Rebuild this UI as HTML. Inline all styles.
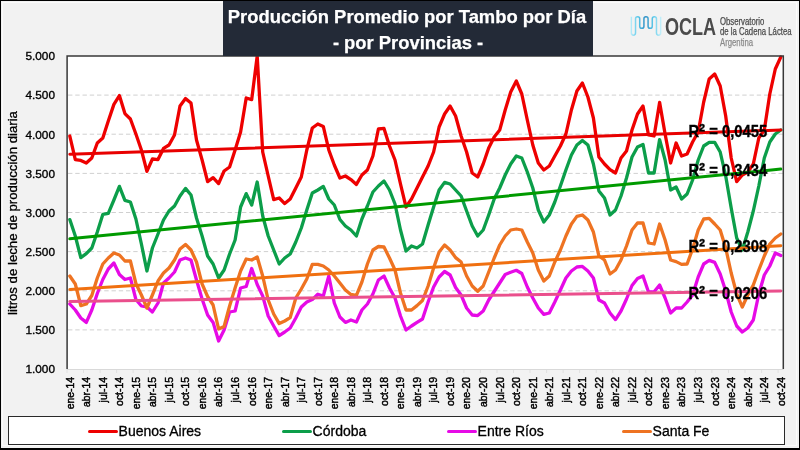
<!DOCTYPE html>
<html><head><meta charset="utf-8"><style>
html,body{margin:0;padding:0;}
body{width:800px;height:450px;overflow:hidden;background:#f2f2f2;position:relative;font-family:"Liberation Sans",Arial,sans-serif;}
.frame{position:absolute;left:0;top:0;width:800px;height:450px;box-sizing:border-box;border-top:1px solid #000;border-left:1px solid #000;border-right:1.6px solid #000;border-bottom:2.2px solid #000;z-index:5;}
.frame2{position:absolute;left:1px;top:1px;right:1.6px;bottom:2.2px;border:1.3px solid #fbfbfb;}
.title{position:absolute;z-index:6;left:223px;top:1px;width:370px;height:55px;background:#232a37;color:#fff;font-weight:bold;font-size:18.4px;text-align:center;-webkit-text-stroke:0.25px #fff;}
.title .l1{position:absolute;left:-1px;right:1px;top:4.7px;}
.title .l2{position:absolute;left:0;right:0;top:31px;}
svg{position:absolute;left:0;top:0;}
.yl{font-size:11.8px;fill:#000;text-anchor:end;stroke:#000;stroke-width:0.35px;}
.xl{font-size:10.4px;fill:#000;text-anchor:end;stroke:#000;stroke-width:0.45px;}
.r2{font-size:17px;font-weight:bold;fill:#000;stroke:#000;stroke-width:0.35px;}
.ytitle{font-size:13.2px;fill:#000;text-anchor:middle;stroke:#000;stroke-width:0.3px;}
.legend{position:absolute;left:8px;top:416.3px;width:776.5px;height:28.8px;box-sizing:border-box;border:1.4px solid #2a2a2a;background:#fff;}
.lg{position:absolute;top:6.1px;font-size:14px;color:#000;white-space:nowrap;-webkit-text-stroke:0.3px #000;}
.lg i{display:inline-block;width:30px;height:3.4px;border-radius:1.7px;vertical-align:middle;margin-right:0.6px;position:relative;top:-1px;}
.ocla{position:absolute;left:665px;top:15.8px;font-size:23px;font-weight:bold;color:#4b4b4b;transform:scaleX(0.785);transform-origin:0 0;line-height:1;}
.obs{position:absolute;left:719.5px;font-size:10px;line-height:1;color:#4a4a4a;-webkit-text-stroke:0.25px currentColor;white-space:nowrap;transform:scaleX(0.775);transform-origin:0 0;}
.arg{color:#8a8a8a;}
</style></head><body>
<div class="frame"><div class="frame2"></div></div>
<svg width="800" height="450" viewBox="0 0 800 450">
<rect x="67" y="56" width="716.5" height="313" fill="#fff"/>
<line x1="68" y1="329.9" x2="783" y2="329.9" stroke="#d0d0d0" stroke-width="1" stroke-dasharray="4.4,2.85"/>
<line x1="68" y1="290.8" x2="783" y2="290.8" stroke="#d0d0d0" stroke-width="1" stroke-dasharray="4.4,2.85"/>
<line x1="68" y1="251.6" x2="783" y2="251.6" stroke="#d0d0d0" stroke-width="1" stroke-dasharray="4.4,2.85"/>
<line x1="68" y1="212.5" x2="783" y2="212.5" stroke="#d0d0d0" stroke-width="1" stroke-dasharray="4.4,2.85"/>
<line x1="68" y1="173.4" x2="783" y2="173.4" stroke="#d0d0d0" stroke-width="1" stroke-dasharray="4.4,2.85"/>
<line x1="68" y1="134.2" x2="783" y2="134.2" stroke="#d0d0d0" stroke-width="1" stroke-dasharray="4.4,2.85"/>
<line x1="68" y1="95.1" x2="783" y2="95.1" stroke="#d0d0d0" stroke-width="1" stroke-dasharray="4.4,2.85"/>
<line x1="67.0" y1="369" x2="67.0" y2="373" stroke="#e0e0e0" stroke-width="1"/>
<line x1="83.5" y1="369" x2="83.5" y2="373" stroke="#e0e0e0" stroke-width="1"/>
<line x1="100.1" y1="369" x2="100.1" y2="373" stroke="#e0e0e0" stroke-width="1"/>
<line x1="116.6" y1="369" x2="116.6" y2="373" stroke="#e0e0e0" stroke-width="1"/>
<line x1="133.1" y1="369" x2="133.1" y2="373" stroke="#e0e0e0" stroke-width="1"/>
<line x1="149.7" y1="369" x2="149.7" y2="373" stroke="#e0e0e0" stroke-width="1"/>
<line x1="166.2" y1="369" x2="166.2" y2="373" stroke="#e0e0e0" stroke-width="1"/>
<line x1="182.8" y1="369" x2="182.8" y2="373" stroke="#e0e0e0" stroke-width="1"/>
<line x1="199.3" y1="369" x2="199.3" y2="373" stroke="#e0e0e0" stroke-width="1"/>
<line x1="215.8" y1="369" x2="215.8" y2="373" stroke="#e0e0e0" stroke-width="1"/>
<line x1="232.4" y1="369" x2="232.4" y2="373" stroke="#e0e0e0" stroke-width="1"/>
<line x1="248.9" y1="369" x2="248.9" y2="373" stroke="#e0e0e0" stroke-width="1"/>
<line x1="265.4" y1="369" x2="265.4" y2="373" stroke="#e0e0e0" stroke-width="1"/>
<line x1="282.0" y1="369" x2="282.0" y2="373" stroke="#e0e0e0" stroke-width="1"/>
<line x1="298.5" y1="369" x2="298.5" y2="373" stroke="#e0e0e0" stroke-width="1"/>
<line x1="315.1" y1="369" x2="315.1" y2="373" stroke="#e0e0e0" stroke-width="1"/>
<line x1="331.6" y1="369" x2="331.6" y2="373" stroke="#e0e0e0" stroke-width="1"/>
<line x1="348.1" y1="369" x2="348.1" y2="373" stroke="#e0e0e0" stroke-width="1"/>
<line x1="364.7" y1="369" x2="364.7" y2="373" stroke="#e0e0e0" stroke-width="1"/>
<line x1="381.2" y1="369" x2="381.2" y2="373" stroke="#e0e0e0" stroke-width="1"/>
<line x1="397.7" y1="369" x2="397.7" y2="373" stroke="#e0e0e0" stroke-width="1"/>
<line x1="414.3" y1="369" x2="414.3" y2="373" stroke="#e0e0e0" stroke-width="1"/>
<line x1="430.8" y1="369" x2="430.8" y2="373" stroke="#e0e0e0" stroke-width="1"/>
<line x1="447.3" y1="369" x2="447.3" y2="373" stroke="#e0e0e0" stroke-width="1"/>
<line x1="463.9" y1="369" x2="463.9" y2="373" stroke="#e0e0e0" stroke-width="1"/>
<line x1="480.4" y1="369" x2="480.4" y2="373" stroke="#e0e0e0" stroke-width="1"/>
<line x1="497.0" y1="369" x2="497.0" y2="373" stroke="#e0e0e0" stroke-width="1"/>
<line x1="513.5" y1="369" x2="513.5" y2="373" stroke="#e0e0e0" stroke-width="1"/>
<line x1="530.0" y1="369" x2="530.0" y2="373" stroke="#e0e0e0" stroke-width="1"/>
<line x1="546.6" y1="369" x2="546.6" y2="373" stroke="#e0e0e0" stroke-width="1"/>
<line x1="563.1" y1="369" x2="563.1" y2="373" stroke="#e0e0e0" stroke-width="1"/>
<line x1="579.6" y1="369" x2="579.6" y2="373" stroke="#e0e0e0" stroke-width="1"/>
<line x1="596.2" y1="369" x2="596.2" y2="373" stroke="#e0e0e0" stroke-width="1"/>
<line x1="612.7" y1="369" x2="612.7" y2="373" stroke="#e0e0e0" stroke-width="1"/>
<line x1="629.3" y1="369" x2="629.3" y2="373" stroke="#e0e0e0" stroke-width="1"/>
<line x1="645.8" y1="369" x2="645.8" y2="373" stroke="#e0e0e0" stroke-width="1"/>
<line x1="662.3" y1="369" x2="662.3" y2="373" stroke="#e0e0e0" stroke-width="1"/>
<line x1="678.9" y1="369" x2="678.9" y2="373" stroke="#e0e0e0" stroke-width="1"/>
<line x1="695.4" y1="369" x2="695.4" y2="373" stroke="#e0e0e0" stroke-width="1"/>
<line x1="711.9" y1="369" x2="711.9" y2="373" stroke="#e0e0e0" stroke-width="1"/>
<line x1="728.5" y1="369" x2="728.5" y2="373" stroke="#e0e0e0" stroke-width="1"/>
<line x1="745.0" y1="369" x2="745.0" y2="373" stroke="#e0e0e0" stroke-width="1"/>
<line x1="761.6" y1="369" x2="761.6" y2="373" stroke="#e0e0e0" stroke-width="1"/>
<line x1="778.1" y1="369" x2="778.1" y2="373" stroke="#e0e0e0" stroke-width="1"/>
<polyline points="69.8,136.0 75.3,159.6 80.8,160.4 86.3,163.0 91.8,158.0 97.3,143.0 102.8,138.0 108.3,121.0 113.9,104.4 119.4,95.6 124.9,113.6 130.4,119.0 135.9,134.0 141.4,150.0 146.9,171.4 152.4,159.0 158.0,159.6 163.5,148.4 169.0,145.0 174.5,135.0 180.0,106.0 185.5,98.6 191.0,103.0 196.5,140.0 202.1,160.0 207.6,181.6 213.1,177.6 218.6,183.6 224.1,171.0 229.6,167.0 235.1,150.0 240.6,132.0 246.2,98.0 251.7,99.6 257.2,56.0 262.7,152.0 268.2,176.0 273.7,199.6 279.2,198.0 284.7,203.6 290.2,199.0 295.8,188.0 301.3,177.0 306.8,150.0 312.3,128.0 317.8,124.0 323.3,126.4 328.8,150.0 334.3,165.0 339.9,178.0 345.4,176.0 350.9,179.6 356.4,184.4 361.9,175.0 367.4,170.0 372.9,156.0 378.4,129.0 384.0,128.4 389.5,146.0 395.0,160.0 400.5,184.0 406.0,207.0 411.5,199.0 417.0,188.0 422.5,177.0 428.1,166.0 433.6,152.0 439.1,127.0 444.6,114.0 450.1,106.0 455.6,116.0 461.1,136.0 466.6,152.0 472.2,173.0 477.7,177.0 483.2,164.0 488.7,148.0 494.2,137.0 499.7,130.0 505.2,110.0 510.7,92.0 516.3,81.0 521.8,94.0 527.3,120.0 532.8,145.0 538.3,163.0 543.8,170.0 549.3,166.0 554.8,156.0 560.4,146.0 565.9,134.0 571.4,110.0 576.9,91.0 582.4,83.0 587.9,97.0 593.4,118.0 598.9,157.0 604.5,164.0 610.0,169.6 615.5,173.0 621.0,158.0 626.5,151.0 632.0,130.0 637.5,114.0 643.0,106.0 648.5,135.0 654.1,136.0 659.6,102.4 665.1,134.0 670.6,163.0 676.1,143.0 681.6,156.0 687.1,154.0 692.6,142.0 698.2,132.0 703.7,102.0 709.2,79.0 714.7,74.0 720.2,86.0 725.7,116.0 731.2,158.0 736.7,181.6 742.3,175.0 747.8,172.0 753.3,164.0 758.8,138.0 764.3,130.0 769.8,94.0 775.3,69.0 780.8,57.0" fill="none" stroke="#ee0000" stroke-width="3.3" stroke-linejoin="round" stroke-linecap="round"/>
<polyline points="69.8,219.6 75.3,236.0 80.8,257.6 86.3,253.6 91.8,248.0 97.3,232.0 102.8,214.4 108.3,213.3 113.9,200.0 119.4,186.4 124.9,200.4 130.4,202.0 135.9,219.0 141.4,244.0 146.9,271.0 152.4,248.0 158.0,234.0 163.5,220.0 169.0,211.0 174.5,206.0 180.0,196.0 185.5,188.4 191.0,195.0 196.5,218.0 202.1,236.0 207.6,256.0 213.1,264.0 218.6,278.0 224.1,270.0 229.6,254.0 235.1,240.0 240.6,207.0 246.2,193.6 251.7,205.0 257.2,182.0 262.7,216.0 268.2,236.0 273.7,250.0 279.2,264.0 284.7,258.0 290.2,254.0 295.8,242.0 301.3,228.0 306.8,210.0 312.3,193.0 317.8,190.0 323.3,186.4 328.8,199.0 334.3,205.0 339.9,219.5 345.4,226.0 350.9,230.0 356.4,236.0 361.9,219.0 367.4,206.0 372.9,192.0 378.4,186.0 384.0,181.0 389.5,190.0 395.0,204.0 400.5,230.0 406.0,251.0 411.5,246.0 417.0,248.0 422.5,244.0 428.1,225.0 433.6,207.0 439.1,190.0 444.6,182.4 450.1,184.0 455.6,190.0 461.1,196.0 466.6,211.0 472.2,226.0 477.7,236.0 483.2,230.0 488.7,215.0 494.2,199.0 499.7,188.0 505.2,175.0 510.7,164.0 516.3,156.0 521.8,158.0 527.3,172.0 532.8,188.0 538.3,210.0 543.8,222.0 549.3,215.0 554.8,202.0 560.4,186.0 565.9,170.0 571.4,155.0 576.9,145.0 582.4,140.4 587.9,145.0 593.4,164.0 598.9,191.0 604.5,198.0 610.0,215.0 615.5,210.0 621.0,196.0 626.5,178.0 632.0,157.0 637.5,147.0 643.0,144.4 648.5,173.0 654.1,173.0 659.6,139.6 665.1,160.0 670.6,190.0 676.1,187.0 681.6,199.0 687.1,194.0 692.6,180.0 698.2,160.0 703.7,146.0 709.2,142.4 714.7,142.4 720.2,152.0 725.7,176.0 731.2,208.0 736.7,238.0 742.3,250.0 747.8,232.0 753.3,211.0 758.8,186.0 764.3,158.0 769.8,142.0 775.3,134.0 780.8,130.0" fill="none" stroke="#0c9e4a" stroke-width="3.3" stroke-linejoin="round" stroke-linecap="round"/>
<polyline points="69.8,304.0 75.3,310.0 80.8,318.0 86.3,322.4 91.8,310.0 97.3,293.5 102.8,279.5 108.3,269.0 113.9,263.0 119.4,274.5 124.9,279.5 130.4,278.0 135.9,299.5 141.4,306.0 146.9,307.0 152.4,312.0 158.0,303.0 163.5,283.0 169.0,278.0 174.5,272.0 180.0,260.0 185.5,258.0 191.0,260.0 196.5,280.0 202.1,299.0 207.6,315.0 213.1,322.4 218.6,341.0 224.1,330.0 229.6,312.0 235.1,311.0 240.6,288.0 246.2,286.5 251.7,268.5 257.2,284.5 262.7,296.0 268.2,316.0 273.7,326.0 279.2,335.6 284.7,332.0 290.2,328.0 295.8,318.0 301.3,307.0 306.8,302.0 312.3,299.6 317.8,294.2 323.3,296.0 328.8,276.0 334.3,303.0 339.9,317.0 345.4,322.4 350.9,320.0 356.4,322.0 361.9,310.0 367.4,304.0 372.9,294.0 378.4,280.0 384.0,276.0 389.5,288.0 395.0,298.0 400.5,316.0 406.0,330.0 411.5,326.0 417.0,322.4 422.5,319.0 428.1,302.0 433.6,287.0 439.1,277.0 444.6,271.5 450.1,275.0 455.6,287.5 461.1,295.0 466.6,308.0 472.2,315.0 477.7,315.6 483.2,311.0 488.7,300.0 494.2,291.5 499.7,283.0 505.2,274.5 510.7,272.2 516.3,270.3 521.8,273.5 527.3,287.0 532.8,298.0 538.3,308.0 543.8,314.4 549.3,313.0 554.8,302.0 560.4,290.0 565.9,278.0 571.4,271.0 576.9,267.0 582.4,266.4 587.9,271.0 593.4,278.0 598.9,300.0 604.5,303.0 610.0,313.0 615.5,319.6 621.0,311.0 626.5,299.0 632.0,285.5 637.5,278.5 643.0,276.0 648.5,292.0 654.1,291.8 659.6,285.0 665.1,298.0 670.6,313.0 676.1,308.0 681.6,308.0 687.1,302.0 692.6,295.0 698.2,277.0 703.7,264.0 709.2,260.4 714.7,262.4 720.2,274.0 725.7,291.0 731.2,312.0 736.7,326.0 742.3,332.0 747.8,328.0 753.3,320.0 758.8,294.0 764.3,275.0 769.8,266.0 775.3,253.0 780.8,255.6" fill="none" stroke="#e60ae6" stroke-width="3.3" stroke-linejoin="round" stroke-linecap="round"/>
<polyline points="69.8,276.0 75.3,284.0 80.8,305.6 86.3,304.0 91.8,295.5 97.3,278.0 102.8,264.0 108.3,258.0 113.9,253.0 119.4,255.0 124.9,261.0 130.4,261.0 135.9,283.5 141.4,295.0 146.9,308.0 152.4,295.0 158.0,281.0 163.5,273.0 169.0,268.0 174.5,260.0 180.0,249.0 185.5,244.4 191.0,250.0 196.5,262.0 202.1,284.0 207.6,296.5 213.1,305.0 218.6,329.0 224.1,326.5 229.6,306.0 235.1,288.0 240.6,271.0 246.2,259.0 251.7,260.0 257.2,257.0 262.7,276.0 268.2,300.0 273.7,314.0 279.2,323.6 284.7,321.0 290.2,317.6 295.8,298.0 301.3,289.0 306.8,279.0 312.3,264.4 317.8,264.4 323.3,266.0 328.8,270.0 334.3,276.0 339.9,283.0 345.4,290.0 350.9,294.5 356.4,295.3 361.9,282.0 367.4,264.0 372.9,250.0 378.4,246.5 384.0,247.0 389.5,258.0 395.0,270.0 400.5,293.0 406.0,310.0 411.5,310.0 417.0,305.6 422.5,300.5 428.1,286.0 433.6,268.0 439.1,252.0 444.6,245.0 450.1,250.0 455.6,257.6 461.1,262.0 466.6,276.0 472.2,286.0 477.7,291.3 483.2,286.0 488.7,272.0 494.2,258.0 499.7,245.0 505.2,236.0 510.7,230.0 516.3,229.0 521.8,230.0 527.3,242.0 532.8,253.0 538.3,270.0 543.8,281.0 549.3,276.0 554.8,262.0 560.4,250.0 565.9,236.0 571.4,224.0 576.9,216.4 582.4,215.0 587.9,220.0 593.4,232.0 598.9,256.0 604.5,260.0 610.0,274.0 615.5,270.0 621.0,260.0 626.5,246.0 632.0,230.0 637.5,223.0 643.0,223.0 648.5,243.0 654.1,244.0 659.6,224.0 665.1,240.0 670.6,260.0 676.1,261.6 681.6,264.4 687.1,264.0 692.6,249.0 698.2,230.0 703.7,219.0 709.2,218.4 714.7,224.0 720.2,230.0 725.7,248.0 731.2,273.0 736.7,294.0 742.3,307.0 747.8,295.0 753.3,285.0 758.8,270.0 764.3,256.0 769.8,244.0 775.3,238.0 780.8,234.0" fill="none" stroke="#ee7322" stroke-width="3.3" stroke-linejoin="round" stroke-linecap="round"/>
<line x1="69.8" y1="154.3" x2="780.8" y2="130.0" stroke="#e80000" stroke-width="3" stroke-linecap="round"/>
<line x1="69.8" y1="238.8" x2="780.8" y2="169.1" stroke="#009a00" stroke-width="3" stroke-linecap="round"/>
<line x1="69.8" y1="289.5" x2="780.8" y2="245.7" stroke="#f07010" stroke-width="3" stroke-linecap="round"/>
<line x1="69.8" y1="301.4" x2="780.8" y2="291.0" stroke="#ea4f8c" stroke-width="3" stroke-linecap="round"/>
<text transform="translate(688.4,137) scale(0.87,1)" class="r2">R<tspan font-size="21px" dy="0.6">²</tspan><tspan dy="-0.6"> = 0,0455</tspan></text>
<text transform="translate(688.4,176) scale(0.87,1)" class="r2">R<tspan font-size="21px" dy="0.6">²</tspan><tspan dy="-0.6"> = 0,3434</tspan></text>
<text transform="translate(688.4,252) scale(0.87,1)" class="r2">R<tspan font-size="21px" dy="0.6">²</tspan><tspan dy="-0.6"> = 0,2308</tspan></text>
<text transform="translate(688.4,299) scale(0.87,1)" class="r2">R<tspan font-size="21px" dy="0.6">²</tspan><tspan dy="-0.6"> = 0,0206</tspan></text>
<line x1="67" y1="369.5" x2="783.5" y2="369.5" stroke="#d9d9d9" stroke-width="1"/>
<path d="M67.1,369 V55.9 H783.3 V369" fill="none" stroke="#383838" stroke-width="1.5"/>
<text x="55" y="373.3" class="yl">1.000</text>
<text x="55" y="334.2" class="yl">1.500</text>
<text x="55" y="295.1" class="yl">2.000</text>
<text x="55" y="255.9" class="yl">2.500</text>
<text x="55" y="216.8" class="yl">3.000</text>
<text x="55" y="177.7" class="yl">3.500</text>
<text x="55" y="138.6" class="yl">4.000</text>
<text x="55" y="99.4" class="yl">4.500</text>
<text x="55" y="60.3" class="yl">5.000</text>
<text transform="translate(73.6,377) rotate(-90)" class="xl">ene-14</text>
<text transform="translate(90.1,377) rotate(-90)" class="xl">abr-14</text>
<text transform="translate(106.6,377) rotate(-90)" class="xl">jul-14</text>
<text transform="translate(123.2,377) rotate(-90)" class="xl">oct-14</text>
<text transform="translate(139.7,377) rotate(-90)" class="xl">ene-15</text>
<text transform="translate(156.2,377) rotate(-90)" class="xl">abr-15</text>
<text transform="translate(172.8,377) rotate(-90)" class="xl">jul-15</text>
<text transform="translate(189.3,377) rotate(-90)" class="xl">oct-15</text>
<text transform="translate(205.9,377) rotate(-90)" class="xl">ene-16</text>
<text transform="translate(222.4,377) rotate(-90)" class="xl">abr-16</text>
<text transform="translate(238.9,377) rotate(-90)" class="xl">jul-16</text>
<text transform="translate(255.5,377) rotate(-90)" class="xl">oct-16</text>
<text transform="translate(272.0,377) rotate(-90)" class="xl">ene-17</text>
<text transform="translate(288.5,377) rotate(-90)" class="xl">abr-17</text>
<text transform="translate(305.1,377) rotate(-90)" class="xl">jul-17</text>
<text transform="translate(321.6,377) rotate(-90)" class="xl">oct-17</text>
<text transform="translate(338.1,377) rotate(-90)" class="xl">ene-18</text>
<text transform="translate(354.7,377) rotate(-90)" class="xl">abr-18</text>
<text transform="translate(371.2,377) rotate(-90)" class="xl">jul-18</text>
<text transform="translate(387.8,377) rotate(-90)" class="xl">oct-18</text>
<text transform="translate(404.3,377) rotate(-90)" class="xl">ene-19</text>
<text transform="translate(420.8,377) rotate(-90)" class="xl">abr-19</text>
<text transform="translate(437.4,377) rotate(-90)" class="xl">jul-19</text>
<text transform="translate(453.9,377) rotate(-90)" class="xl">oct-19</text>
<text transform="translate(470.4,377) rotate(-90)" class="xl">ene-20</text>
<text transform="translate(487.0,377) rotate(-90)" class="xl">abr-20</text>
<text transform="translate(503.5,377) rotate(-90)" class="xl">jul-20</text>
<text transform="translate(520.1,377) rotate(-90)" class="xl">oct-20</text>
<text transform="translate(536.6,377) rotate(-90)" class="xl">ene-21</text>
<text transform="translate(553.1,377) rotate(-90)" class="xl">abr-21</text>
<text transform="translate(569.7,377) rotate(-90)" class="xl">jul-21</text>
<text transform="translate(586.2,377) rotate(-90)" class="xl">oct-21</text>
<text transform="translate(602.7,377) rotate(-90)" class="xl">ene-22</text>
<text transform="translate(619.3,377) rotate(-90)" class="xl">abr-22</text>
<text transform="translate(635.8,377) rotate(-90)" class="xl">jul-22</text>
<text transform="translate(652.3,377) rotate(-90)" class="xl">oct-22</text>
<text transform="translate(668.9,377) rotate(-90)" class="xl">ene-23</text>
<text transform="translate(685.4,377) rotate(-90)" class="xl">abr-23</text>
<text transform="translate(702.0,377) rotate(-90)" class="xl">jul-23</text>
<text transform="translate(718.5,377) rotate(-90)" class="xl">oct-23</text>
<text transform="translate(735.0,377) rotate(-90)" class="xl">ene-24</text>
<text transform="translate(751.6,377) rotate(-90)" class="xl">abr-24</text>
<text transform="translate(768.1,377) rotate(-90)" class="xl">jul-24</text>
<text transform="translate(784.6,377) rotate(-90)" class="xl">oct-24</text>
<text transform="translate(17.4,213) rotate(-90)" class="ytitle">litros de leche de producción diaria</text>
</svg>
<div class="title"><div class="l1">Producción Promedio por Tambo por Día</div><div class="l2">- por Provincias -</div></div>
<svg width="800" height="60" viewBox="0 0 800 60" style="left:0;top:0">
<defs><linearGradient id="wg" x1="630" y1="0" x2="661" y2="0" gradientUnits="userSpaceOnUse"><stop offset="0" stop-color="#c6f0fa"/><stop offset="0.25" stop-color="#5cc9ea"/><stop offset="0.5" stop-color="#2f8ec4"/><stop offset="0.75" stop-color="#5cc9ea"/><stop offset="1" stop-color="#c6f0fa"/></linearGradient></defs>
<path d="M631.3,16.7 V32.8 Q631.3,35.2 633.4,35.2 Q635.5,35.2 635.5,32.8 V18.8 Q635.5,16.7 637.6,16.7 Q639.7,16.7 639.7,18.8 V26.2 Q639.7,28.3 641.8,28.3 Q643.9,28.3 643.9,26.2 V18.8 Q643.9,16.7 646,16.7 Q648.1,16.7 648.1,18.8 V26.2 Q648.1,28.3 650.2,28.3 Q652.3,28.3 652.3,26.2 V18.8 Q652.3,16.7 654.4,16.7 Q656.5,16.7 656.5,18.8 V32.8 Q656.5,35.2 658.6,35.2 Q660.7,35.2 660.7,32.8 V16.7" fill="none" stroke="url(#wg)" stroke-width="1.5"/>
</svg>
<div class="ocla">OCLA</div>
<div class="obs" style="top:17.2px">Observatorio</div>
<div class="obs" style="top:27.3px">de la Cadena Láctea</div>
<div class="obs arg" style="top:37.9px">Argentina</div>
<div class="legend">
<div class="lg" style="left:79px"><i style="background:#ee0000"></i>Buenos Aires</div>
<div class="lg" style="left:273px"><i style="background:#0c9e4a"></i>Córdoba</div>
<div class="lg" style="left:438px"><i style="background:#e60ae6"></i>Entre Ríos</div>
<div class="lg" style="left:613px"><i style="background:#ee7322"></i>Santa Fe</div>
</div>
</body></html>
